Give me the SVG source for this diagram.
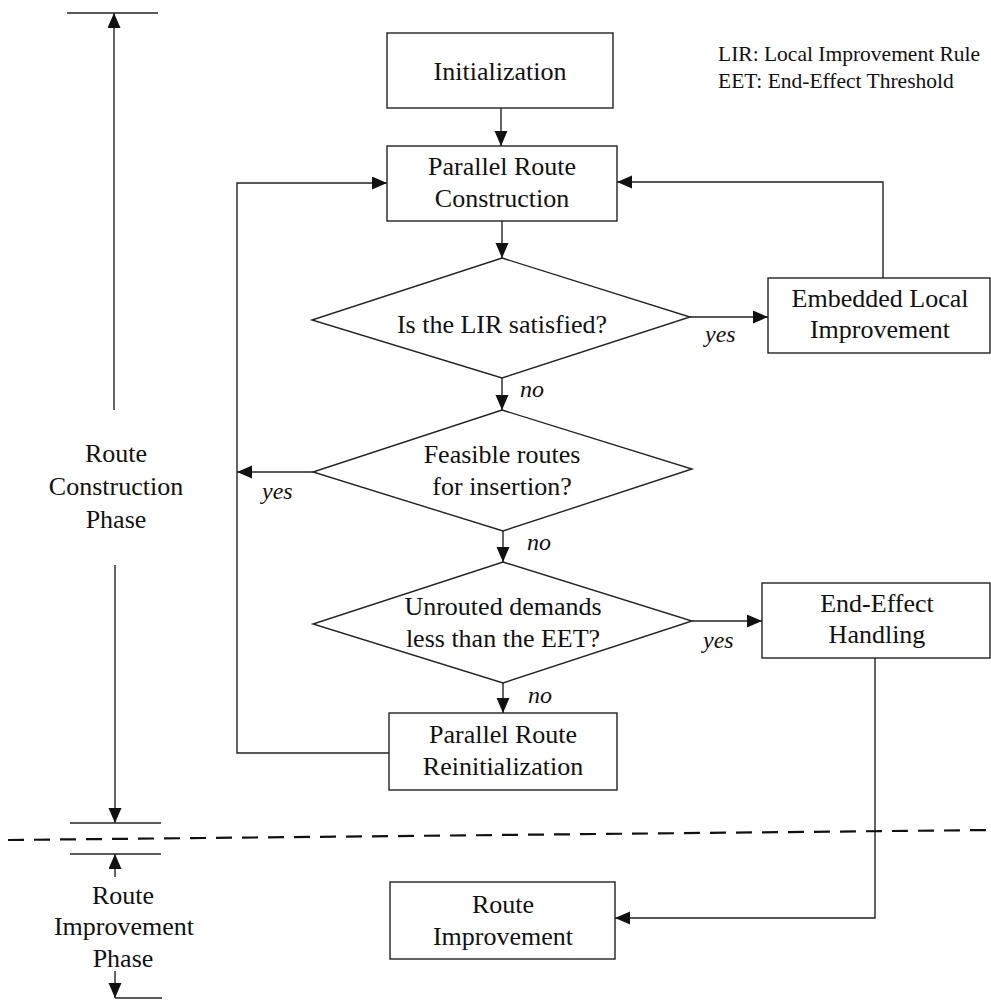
<svg xmlns="http://www.w3.org/2000/svg" width="991" height="1000" viewBox="0 0 991 1000">
<defs>
<marker id="ah" markerUnits="userSpaceOnUse" markerWidth="16" markerHeight="14" refX="15" refY="6.5" orient="auto">
<path d="M0,0 L15,6.5 L0,13 z" fill="#111"/>
</marker>
<style>
.box{fill:#fff;stroke:#222;stroke-width:1.4}
.ln{fill:none;stroke:#222;stroke-width:1.4}
.t{font-family:"Liberation Serif","Times New Roman",serif;font-size:26px;fill:#111;text-anchor:middle}
.s{font-family:"Liberation Serif","Times New Roman",serif;font-size:26px;fill:#111;text-anchor:middle}
.lab{font-family:"Liberation Serif","Times New Roman",serif;font-size:24px;font-style:italic;fill:#111}
.leg{font-family:"Liberation Serif","Times New Roman",serif;font-size:21.5px;fill:#111}
</style>
</defs>
<rect width="991" height="1000" fill="#fff"/>

<g id="connectors">
<path class="ln" d="M501,108 V146" marker-end="url(#ah)"/>
<path class="ln" d="M502,221 V258" marker-end="url(#ah)"/>
<path class="ln" d="M690,317 H768" marker-end="url(#ah)"/>
<path class="ln" d="M883,278 V182 H617" marker-end="url(#ah)"/>
<path class="ln" d="M502,378 V410" marker-end="url(#ah)"/>
<path class="ln" d="M313,472 H237" marker-end="url(#ah)"/>
<path class="ln" d="M503,531 V562" marker-end="url(#ah)"/>
<path class="ln" d="M692,621 H762" marker-end="url(#ah)"/>
<path class="ln" d="M503,683 V713" marker-end="url(#ah)"/>
<path class="ln" d="M389,753 H237 V183 H387" marker-end="url(#ah)"/>
<path class="ln" d="M875,658 V918 H615" marker-end="url(#ah)"/>
<text class="lab" x="705" y="342">yes</text>
<text class="lab" x="520" y="397">no</text>
<text class="lab" x="262" y="499">yes</text>
<text class="lab" x="527" y="550">no</text>
<text class="lab" x="703" y="648">yes</text>
<text class="lab" x="528" y="703">no</text>
</g>

<g id="phases">
<path class="ln" d="M67,13 H158"/>
<path class="ln" d="M114,410 V13" marker-end="url(#ah)"/>
<text class="s" x="116" y="462">Route</text>
<text class="s" x="116" y="495">Construction</text>
<text class="s" x="116" y="528">Phase</text>
<path class="ln" d="M115,565 V823" marker-end="url(#ah)"/>
<path class="ln" d="M70,823 H161"/>
<path fill="none" stroke="#111" stroke-width="2.2" stroke-dasharray="16,10" d="M8,840 L991,830"/>
<path class="ln" d="M70,854 H161"/>
<path class="ln" d="M115,877 V854" marker-end="url(#ah)"/>
<text class="s" x="123" y="904">Route</text>
<text class="s" x="124" y="935">Improvement</text>
<text class="s" x="123" y="967">Phase</text>
<path class="ln" d="M115,971 V998" marker-end="url(#ah)"/>
<path class="ln" d="M115,998 H162"/>
</g>

<g id="legend">
<text class="leg" x="718" y="61">LIR: Local Improvement Rule</text>
<text class="leg" x="718" y="88">EET: End-Effect Threshold</text>
</g>

<g id="initialization">
<rect class="box" x="387" y="33" width="226" height="75"/>
<text class="t" x="500" y="80">Initialization</text>
</g>

<g id="parallel-route-construction">
<rect class="box" x="387" y="146" width="230" height="75"/>
<text class="t" x="502" y="175">Parallel Route</text>
<text class="t" x="502" y="207">Construction</text>
</g>

<g id="lir-decision">
<polygon class="box" points="502,258 690,317 502,378 312,320"/>
<text class="t" x="502" y="333">Is the LIR satisfied?</text>
</g>

<g id="embedded-local-improvement">
<rect class="box" x="768" y="278" width="222" height="75"/>
<text class="t" x="880" y="307">Embedded Local</text>
<text class="t" x="880" y="338">Improvement</text>
</g>

<g id="feasible-decision">
<polygon class="box" points="502,410 692,469 503,531 313,472"/>
<text class="t" x="502" y="463">Feasible routes</text>
<text class="t" x="502" y="495">for insertion?</text>
</g>

<g id="eet-decision">
<polygon class="box" points="503,562 692,621 503,683 313,624"/>
<text class="t" x="503" y="615">Unrouted demands</text>
<text class="t" x="503" y="647">less than the EET?</text>
</g>

<g id="end-effect-handling">
<rect class="box" x="762" y="583" width="228" height="75"/>
<text class="t" x="877" y="612">End-Effect</text>
<text class="t" x="877" y="643">Handling</text>
</g>

<g id="parallel-route-reinitialization">
<rect class="box" x="389" y="713" width="228" height="77"/>
<text class="t" x="503" y="743">Parallel Route</text>
<text class="t" x="503" y="775">Reinitialization</text>
</g>

<g id="route-improvement">
<rect class="box" x="390" y="882" width="225" height="77"/>
<text class="t" x="503" y="913">Route</text>
<text class="t" x="503" y="945">Improvement</text>
</g>
</svg>
